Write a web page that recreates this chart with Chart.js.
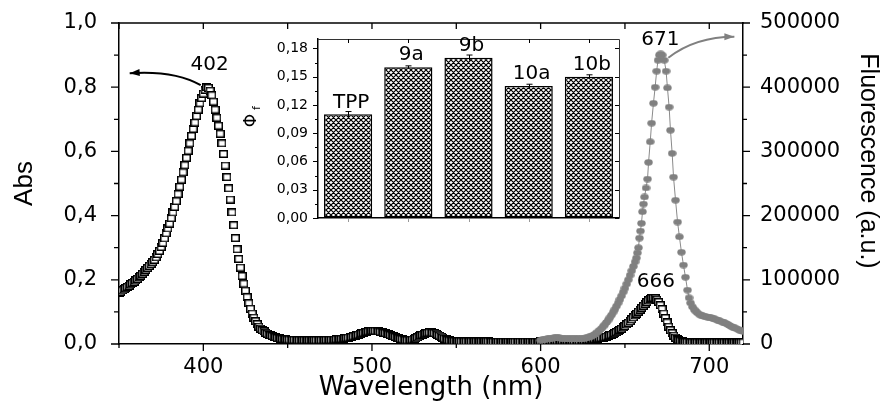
<!DOCTYPE html>
<html><head><meta charset="utf-8">
<script src="https://cdn.jsdelivr.net/npm/chart.js@4.4.1/dist/chart.umd.min.js"></script>
<style>
html,body{margin:0;padding:0;background:#fff;}
#wrap{position:relative;width:884px;height:402px;overflow:hidden;background:#fff;}
#main{position:absolute;left:0;top:0;}
#inset{position:absolute;left:236px;top:30px;}
</style></head><body>
<div id="wrap"><canvas id="main" width="884" height="402"></canvas><canvas id="inset" width="392" height="200"></canvas></div>
<script>
// ---------------- DATA ----------------
// Absorbance, sampled every 1 nm starting at 350 nm
const absStartNm = 350;
const absValues = [
0.160,0.163,0.167,0.170,0.174,0.178,0.182,0.186,0.190,0.194,
0.198,0.203,0.208,0.213,0.219,0.225,0.231,0.237,0.243,0.249,
0.255,0.262,0.270,0.280,0.290,0.302,0.315,0.329,0.345,0.360,
0.375,0.392,0.410,0.427,0.445,0.467,0.490,0.512,0.535,0.557,
0.580,0.602,0.625,0.648,0.670,0.690,0.710,0.730,0.750,0.766,
0.780,0.792,0.800,0.798,0.789,0.775,0.755,0.730,0.705,0.680,
0.655,0.625,0.592,0.556,0.520,0.485,0.450,0.410,0.370,0.330,
0.295,0.265,0.238,0.212,0.188,0.166,0.146,0.127,0.110,0.095,
0.082,0.071,0.062,0.054,0.048,0.043,0.039,0.035,0.032,0.029,
0.027,0.025,0.023,0.021,0.019,0.018,0.017,0.016,0.015,0.015,
0.014,0.014,0.013,0.013,0.013,0.013,0.012,0.012,0.012,0.012,
0.012,0.012,0.012,0.012,0.012,0.012,0.012,0.012,0.012,0.012,
0.012,0.012,0.012,0.013,0.013,0.013,0.013,0.014,0.014,0.015,
0.015,0.016,0.016,0.017,0.018,0.019,0.020,0.021,0.022,0.024,
0.025,0.027,0.029,0.031,0.033,0.035,0.036,0.038,0.039,0.040,
0.041,0.041,0.041,0.040,0.039,0.038,0.037,0.035,0.034,0.032,
0.030,0.028,0.026,0.024,0.022,0.020,0.018,0.016,0.015,0.013,
0.012,0.012,0.012,0.013,0.014,0.016,0.018,0.021,0.024,0.027,
0.029,0.031,0.033,0.035,0.036,0.036,0.035,0.034,0.032,0.029,
0.026,0.023,0.020,0.017,0.015,0.013,0.011,0.010,0.010,0.009,
0.009,0.009,0.009,0.008,0.008,0.008,0.008,0.008,0.008,0.008,
0.008,0.008,0.008,0.008,0.008,0.008,0.008,0.008,0.008,0.008,
0.007,0.007,0.007,0.007,0.007,0.007,0.007,0.007,0.007,0.007,
0.007,0.007,0.007,0.007,0.007,0.007,0.007,0.007,0.007,0.007,
0.007,0.007,0.007,0.007,0.007,0.007,0.007,0.007,0.007,0.007,
0.008,0.008,0.008,0.009,0.009,0.009,0.010,0.010,0.010,0.010,
0.010,0.010,0.010,0.010,0.010,0.010,0.010,0.010,0.010,0.010,
0.010,0.010,0.010,0.010,0.010,0.011,0.011,0.012,0.012,0.013,
0.013,0.014,0.015,0.016,0.017,0.018,0.019,0.020,0.021,0.023,
0.025,0.027,0.029,0.031,0.034,0.037,0.040,0.044,0.048,0.052,
0.056,0.061,0.066,0.071,0.077,0.083,0.089,0.095,0.101,0.107,
0.113,0.119,0.125,0.131,0.136,0.140,0.143,0.144,0.142,0.138,
0.131,0.121,0.109,0.095,0.081,0.067,0.054,0.043,0.034,0.026,
0.020,0.015,0.012,0.010,0.008,0.007,0.006,0.006,0.006,0.005,
0.005,0.005,0.005,0.005,0.005,0.005,0.005,0.005,0.005,0.005,
0.005,0.005,0.005,0.005,0.005,0.005,0.005,0.005,0.005,0.005,
0.005,0.005,0.005,0.005,0.005,0.005,0.005,0.005,0.005,0.005,
0.005
];
// Fluorescence emission (wavelength nm, intensity a.u.)
const fluorWavelengths = [
600,601,602,603,604,605,606,607,608,609,610,611,612,613,614,615,616,617,618,619,
620,621,622,623,624,625,626,627,628,629,630,631,632,633,634,635,636,637,638,639,
640,641,642,643,644,645,646,647,648,649,650,651,652,653,654,655,656,
656.8,657.4,658.0,658.6,659.2,659.8,660.4,661.0,661.6,662.5,663.4,664.0,665.0,665.8,
666.9,667.9,668.8,669.6,670.4,671.2,672.1,673.3,674.4,675.2,676.2,677.0,678.0,678.8,
680.0,681.2,682.3,683.5,684.7,685.9,687.1,688.0,688.9,
690,691,692,693,694,695,696,697,698,699,700,701,702,703,704,705,706,707,708,709,
710,711,712,713,714,715,716,717,718,719,720
];
const fluorValues = [
6000,6500,7000,7500,8000,8500,9000,9000,9500,9500,9500,9500,9000,9000,8500,8500,8000,8000,8000,8000,
8000,8000,8000,8000,8500,8500,9000,9500,10000,11000,12000,13500,15000,17000,19000,21500,24000,27000,30000,33500,
37000,41000,45000,49500,54000,59000,64000,69500,75000,81000,87000,93500,100000,107000,114000,121000,128000,
134000,142000,150000,165000,176000,188000,206000,218000,229000,243000,257000,283000,315000,344000,
375000,400000,425000,442000,450000,452000,450000,442000,425000,399000,369000,333000,297000,260000,
224000,190000,167000,143000,123000,104000,84000,72000,64000,
58000,54000,51000,48500,46500,45000,44000,43000,42500,42000,41500,41000,40000,39000,38000,37000,36000,35000,34000,33000,
32000,30500,29000,27500,26000,25000,24000,23000,21500,20500,19500
];
const absPeakNm = [402, 666];
const fluorPeakNm = [671];

// Inset: fluorescence quantum yields
const insetCategories = ['TPP', '9a', '9b', '10a', '10b'];
const quantumYields = [0.11, 0.16, 0.17, 0.14, 0.15];
const quantumYieldErrors = [0.003, 0.0015, 0.003, 0.002, 0.002];

// ---------------- STYLE HELPERS ----------------
const SANS = "'DejaVu Sans', sans-serif";
const ARIAL = "'Liberation Sans', Arial, sans-serif";
const fmtComma = (v, d) => v.toFixed(d).replace('.', ',');

function makeRectMarker(w, h) {
  const c = document.createElement('canvas'); c.width = w; c.height = h;
  const g = c.getContext('2d');
  g.fillStyle = '#fff'; g.fillRect(0, 0, w, h);
  g.strokeStyle = '#000'; g.lineWidth = 1.5; g.strokeRect(0.75, 0.75, w - 1.5, h - 1.5);
  return c;
}
function makeDotMarker(w, h, color) {
  const c = document.createElement('canvas'); c.width = w; c.height = h;
  const g = c.getContext('2d');
  g.fillStyle = color; g.beginPath(); g.ellipse(w / 2, h / 2, w / 2 - 0.3, h / 2 - 0.3, 0, 0, Math.PI * 2); g.fill();
  return c;
}
function makeHatch() {
  const s = 5;
  const c = document.createElement('canvas'); c.width = s; c.height = s;
  const g = c.getContext('2d');
  g.fillStyle = '#fff'; g.fillRect(0, 0, s, s);
  g.strokeStyle = '#000'; g.lineWidth = 1.2;
  g.beginPath();
  for (let k = -1; k <= 1; k++) {
    g.moveTo(k * s, 0); g.lineTo(k * s + s, s);
    g.moveTo(k * s, s); g.lineTo(k * s + s, 0);
  }
  g.stroke();
  return c;
}
function arrowHead(ctx, tip, from, len, half) {
  const a = Math.atan2(tip.y - from.y, tip.x - from.x);
  const bx = tip.x - len * Math.cos(a), by = tip.y - len * Math.sin(a);
  ctx.beginPath();
  ctx.moveTo(tip.x, tip.y);
  ctx.lineTo(bx + half * Math.sin(a), by - half * Math.cos(a));
  ctx.lineTo(bx - half * Math.sin(a), by + half * Math.cos(a));
  ctx.closePath(); ctx.fill();
}
function curvedArrow(ctx, p0, c, p1, color) {
  ctx.strokeStyle = color; ctx.fillStyle = color; ctx.lineWidth = 2;
  ctx.beginPath(); ctx.moveTo(p0.x, p0.y); ctx.quadraticCurveTo(c.x, c.y, p1.x, p1.y); ctx.stroke();
  arrowHead(ctx, p1, c, 10, 3.5);
}
// tick marks are drawn by the plugins; the invisible tick space positions the labels
const hiddenTicks = len => ({ display: true, drawOnChartArea: false, drawTicks: true, tickLength: len, tickColor: 'rgba(0,0,0,0)' });

// ---------------- MAIN CHART ----------------
const absPoints = absValues.map((v, i) => ({ x: absStartNm + i, y: v }));
const fluorPoints = fluorWavelengths.map((w, i) => ({ x: w, y: fluorValues[i] }));
const absAt = nm => absValues[Math.round(nm - absStartNm)];

const mainDecor = {
  id: 'mainDecor',
  afterDraw(chart) {
    const { ctx, chartArea: a, scales } = chart;
    const xs = scales.x, ya = scales.y, yf = scales.yF;
    ctx.save();
    ctx.strokeStyle = '#000'; ctx.lineWidth = 1.5;
    ctx.beginPath(); ctx.moveTo(a.left, a.top); ctx.lineTo(a.right + 0.75, a.top); ctx.stroke();
    ctx.lineWidth = 1.3;
    ctx.beginPath();
    xs.ticks.forEach(t => {
      const px = xs.getPixelForValue(t.value); const major = t.label !== '';
      ctx.moveTo(px, a.bottom); ctx.lineTo(px, a.bottom + (major ? 7 : 4));
      ctx.moveTo(px, a.top); ctx.lineTo(px, a.top + 6);
    });
    ya.ticks.forEach(t => {
      const py = ya.getPixelForValue(t.value); const major = t.label !== '';
      ctx.moveTo(a.left, py); ctx.lineTo(a.left - (major ? 8 : 5), py);
    });
    yf.ticks.forEach(t => {
      const py = yf.getPixelForValue(t.value); const major = t.label !== '';
      ctx.moveTo(a.right, py); ctx.lineTo(a.right + (major ? 7 : 4), py);
    });
    ctx.stroke();

    // peak annotations
    ctx.fillStyle = '#000'; ctx.font = '20px ' + SANS; ctx.textAlign = 'center'; ctx.textBaseline = 'middle';
    const soret = absPeakNm[0], qpk = absPeakNm[1], fpk = fluorPeakNm[0];
    const P = { x: xs.getPixelForValue(soret), y: ya.getPixelForValue(absAt(soret)) };
    ctx.fillText(String(soret), P.x + 3, P.y - 22);
    curvedArrow(ctx, { x: P.x - 6, y: P.y - 2 }, { x: P.x - 32, y: P.y - 17 }, { x: P.x - 77, y: P.y - 14 }, '#000');
    const R = { x: xs.getPixelForValue(qpk), y: ya.getPixelForValue(absAt(qpk)) };
    ctx.fillStyle = '#000';
    ctx.fillText(String(qpk), R.x + 4, R.y - 16);
    const fmax = Math.max(...fluorValues);
    const Q = { x: xs.getPixelForValue(fpk), y: yf.getPixelForValue(fmax) };
    ctx.fillText(String(fpk), Q.x, Q.y - 14);
    curvedArrow(ctx, { x: Q.x + 8, y: Q.y + 4 }, { x: Q.x + 35, y: Q.y - 17 }, { x: Q.x + 74, y: Q.y - 17 }, '#808080');

    // right axis title
    ctx.fillStyle = '#000'; ctx.font = '25px ' + ARIAL;
    ctx.translate(868, 161); ctx.rotate(Math.PI / 2);
    ctx.fillText('Fluorescence (a.u.)', 0, 0);
    ctx.restore();
  }
};

const tickFont = { family: SANS, size: 21 };
new Chart(document.getElementById('main'), {
  type: 'line',
  data: {
    datasets: [
      { label: 'Abs', data: absPoints, yAxisID: 'y', order: 1, showLine: false,
        pointStyle: makeRectMarker(9, 8), pointRadius: 4, borderColor: '#000', backgroundColor: '#fff' },
      { label: 'Fluorescence', data: fluorPoints, yAxisID: 'yF', order: 0, showLine: true,
        borderColor: '#8a8a8a', borderWidth: 1, tension: 0,
        pointStyle: makeDotMarker(9, 7, '#808080'), pointRadius: 3.5, backgroundColor: '#808080' }
    ]
  },
  options: {
    responsive: false, animation: false, events: [],
    layout: { padding: { top: 23, left: 0, right: 0, bottom: 0 } },
    plugins: { legend: { display: false }, tooltip: { enabled: false } },
    scales: {
      x: {
        type: 'linear', position: 'bottom', min: 350, max: 720,
        ticks: { stepSize: 50, includeBounds: false, autoSkip: false, maxRotation: 0, padding: 0,
          font: tickFont, color: '#000', callback: v => (v % 100 === 0 ? String(v) : '') },
        grid: hiddenTicks(11),
        border: { display: true, color: '#000', width: 1.5 },
        title: { display: true, text: 'Wavelength (nm)', color: '#000',
          font: { family: SANS, size: 26, lineHeight: 0.9 }, padding: { top: 0, bottom: 2 } },
        afterFit: s => { s.height = 58; }
      },
      y: {
        type: 'linear', position: 'left', min: 0, max: 1,
        ticks: { stepSize: 0.1, autoSkip: false, padding: 0, font: tickFont, color: '#000',
          callback: v => (Math.round(v * 10) % 2 === 0 ? fmtComma(v, 1) : '') },
        grid: hiddenTicks(22),
        border: { display: true, color: '#000', width: 1.5 },
        title: { display: true, text: 'Abs', color: '#000', font: { family: ARIAL, size: 26 }, padding: { top: 9 } },
        afterFit: s => { s.width = 119; }
      },
      yF: {
        type: 'linear', position: 'right', min: 0, max: 500000,
        ticks: { stepSize: 50000, autoSkip: false, padding: 0, font: tickFont, color: '#000',
          callback: v => (v % 100000 === 0 ? String(v) : '') },
        grid: hiddenTicks(17),
        border: { display: true, color: '#000', width: 1.5 },
        afterFit: s => { s.width = 141; }
      }
    }
  },
  plugins: [mainDecor]
});

// ---------------- INSET CHART ----------------
const insetDecor = {
  id: 'insetDecor',
  afterDraw(chart) {
    const { ctx, chartArea: a, scales } = chart;
    const xs = scales.x, ys = scales.y;
    ctx.save();
    ctx.strokeStyle = '#333'; ctx.lineWidth = 1;
    ctx.beginPath();
    ctx.moveTo(a.left, a.top + 0.5); ctx.lineTo(a.right + 0.5, a.top + 0.5); ctx.lineTo(a.right + 0.5, a.bottom);
    ctx.stroke();
    ctx.strokeStyle = '#000'; ctx.lineWidth = 1;
    ctx.beginPath();
    ys.ticks.forEach(t => {
      const py = Math.round(ys.getPixelForValue(t.value)) + 0.5; const major = t.label !== '';
      ctx.moveTo(a.left, py); ctx.lineTo(a.left - (major ? 5 : 3), py);
      if (major) { ctx.moveTo(a.right, py); ctx.lineTo(a.right - 4, py); }
    });
    insetCategories.forEach((c, i) => {
      const px = Math.round(xs.getPixelForValue(i)) + 0.5;
      ctx.moveTo(px, a.top); ctx.lineTo(px, a.top + 4);
    });
    ctx.stroke();
    ctx.strokeStyle = '#999';
    ctx.beginPath();
    insetCategories.forEach((c, i) => {
      const px = Math.round(xs.getPixelForValue(i)) + 0.5;
      ctx.moveTo(px, a.bottom + 1); ctx.lineTo(px, a.bottom + 4);
    });
    ctx.stroke();
    // error bars
    ctx.strokeStyle = '#000'; ctx.lineWidth = 1;
    ctx.beginPath();
    quantumYields.forEach((v, i) => {
      const px = Math.round(xs.getPixelForValue(i)) + 0.5;
      const yTop = ys.getPixelForValue(v + quantumYieldErrors[i]);
      const yBot = ys.getPixelForValue(v - quantumYieldErrors[i]);
      ctx.moveTo(px, yBot); ctx.lineTo(px, yTop);
      ctx.moveTo(px - 3, yTop); ctx.lineTo(px + 3, yTop);
    });
    ctx.stroke();
    // bar labels
    ctx.fillStyle = '#000'; ctx.font = '20px ' + SANS; ctx.textAlign = 'center'; ctx.textBaseline = 'middle';
    quantumYields.forEach((v, i) => {
      ctx.fillText(insetCategories[i], xs.getPixelForValue(i) + 3, ys.getPixelForValue(v) - 12);
    });
    // Φf axis title
    ctx.translate(16, 88); ctx.rotate(-Math.PI / 2);
    ctx.font = '17px ' + SANS; ctx.fillText('Φ', -2.5, 0);
    ctx.font = '11px ' + SANS; ctx.fillText('f', 10, 5);
    ctx.restore();
  }
};

const insetCanvas = document.getElementById('inset');
const hatch = insetCanvas.getContext('2d').createPattern(makeHatch(), 'repeat');
new Chart(insetCanvas, {
  type: 'bar',
  data: {
    labels: insetCategories,
    datasets: [{ label: 'Φf', data: quantumYields, backgroundColor: hatch, borderColor: '#000',
      borderWidth: 1.5, borderSkipped: false, barPercentage: 0.8, categoryPercentage: 1 }]
  },
  options: {
    responsive: false, animation: false, events: [],
    layout: { padding: { top: 9, right: 9, left: 0, bottom: 0 } },
    plugins: { legend: { display: false }, tooltip: { enabled: false } },
    scales: {
      x: {
        ticks: { display: false },
        grid: { display: true, drawOnChartArea: false, drawTicks: false },
        border: { display: true, color: '#000', width: 1.5 },
        afterFit: s => { s.height = 12; }
      },
      y: {
        min: 0, max: 0.19,
        ticks: { stepSize: 0.015, includeBounds: false, autoSkip: false, padding: 0,
          font: { family: SANS, size: 14 }, color: '#000',
          callback: v => { const k = Math.round(v / 0.015); return k % 2 === 0 ? fmtComma(k * 0.015, 2) : ''; } },
        grid: hiddenTicks(10),
        border: { display: true, color: '#000', width: 1.5 },
        afterFit: s => { s.width = 82; }
      }
    }
  },
  plugins: [insetDecor]
});
</script>
</body></html>
